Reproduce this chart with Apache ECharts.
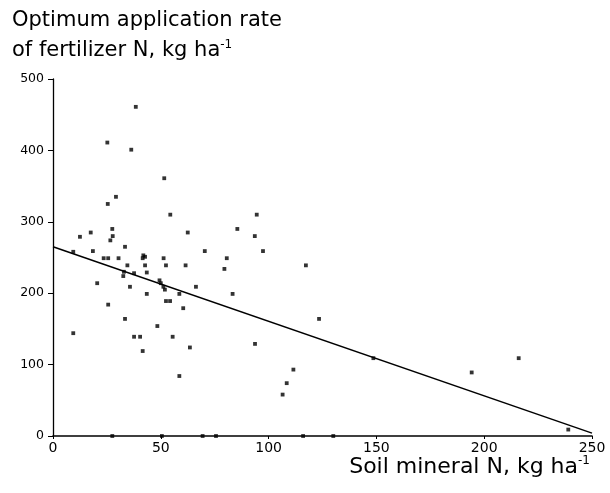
<!DOCTYPE html>
<html>
<head>
<meta charset="utf-8">
<script src="https://cdn.jsdelivr.net/npm/echarts@6/dist/echarts.min.js"></script>
<style>html,body{margin:0;padding:0;background:#fff}#c{width:610px;height:493px}</style>
</head>
<body>
<div id="c"></div>
<script>
// Soil mineral N (x) and optimum fertilizer N (y), kg/ha
const soilN = [9.4,18.5,12.5,17.5,27.5,27.7,26.6,33.4,23.5,25.6,30.4,41.9,42.7,41.6,51.3,34.5,42.7,52.4,61.5,32.9,32.6,37.6,43.5,20.5,35.7,49.4,50,51.2,51.9,66.3,43.5,58.6,52.4,54.3,25.6,60.4,33.4,48.4,9.4,37.6,40.4,55.5,63.5,41.6,58.6,38.4,25.2,36.3,29.2,25.4,51.6,54.4,62.5,94.5,85.5,93.6,97.4,70.4,80.6,79.5,83.3,93.7,117.3,123.4,111.5,108.4,106.5,148.6,194.2,216,239,27.5,50.5,69.4,75.6,116,130];
const optN  = [258,259,279,285,290,280,274,265,249,249,249,253,251,249,249,239,239,239,239,230,224,228,229,214,209,218,214,209,205,209,199,199,189,189,184,179,164,154,144,139,139,139,124,119,84,461,411,401,335,325,361,310,285,310,290,280,259,259,249,234,199,129,239,164,93,74,58,109,89,109,9,0,0,0,0,0,0];
// Fitted regression line end points
const regX = [0, 250];
const regY = [265, 4];
const xTicks = [0, 50, 100, 150, 200, 250];
const yTicks = [0, 100, 200, 300, 400, 500];

const chart = echarts.init(document.getElementById('c'));
const font = 'DejaVu Sans';
chart.setOption({
  animation: false,
  backgroundColor: '#fff',
  grid: {left: 53, right: 18, top: 79, bottom: 57},
  xAxis: {
    type: 'value', min: xTicks[0], max: xTicks[xTicks.length-1], interval: 50,
    axisLine: {lineStyle: {color: '#000', width: 1.6}},
    axisTick: {show: true, length: 3, lineStyle: {color: '#000'}},
    axisLabel: {color: '#000', fontFamily: font, fontSize: 14, margin: 5},
    splitLine: {show: false}
  },
  yAxis: {
    type: 'value', min: yTicks[0], max: yTicks[yTicks.length-1], interval: 100,
    axisLine: {show: true, lineStyle: {color: '#000', width: 1.3}},
    axisTick: {show: true, length: 5, lineStyle: {color: '#000'}},
    axisLabel: {color: '#000', fontFamily: font, fontSize: 12.5, margin: 9},
    splitLine: {show: false}
  },
  series: [
    {
      type: 'line', data: regX.map((x, i) => [x, regY[i]]),
      symbol: 'none', lineStyle: {color: '#000', width: 1.5}, z: 2
    },
    {
      type: 'scatter', data: soilN.map((x, i) => [x, optN[i]]),
      symbol: 'rect', symbolSize: 3.8, itemStyle: {color: '#000'}, clip: false, z: 3
    }
  ],
  graphic: [
    {type: 'text', left: 12, top: 10, style: {text: 'Optimum application rate', font: '21px "DejaVu Sans"', fill: '#000'}},
    {type: 'text', left: 12, top: 39, style: {
      text: '{a|of fertilizer N, kg ha}{s|-1}',
      rich: {a: {fontFamily: font, fontSize: 21, lineHeight: 24, color: '#000'},
             s: {fontFamily: font, fontSize: 12, lineHeight: 12, verticalAlign: 'top', color: '#000'}}
    }},
    {type: 'text', right: 20, top: 455, style: {
      text: '{a|Soil mineral N, kg ha}{s|-1}',
      rich: {a: {fontFamily: font, fontSize: 22, lineHeight: 24, color: '#000'},
             s: {fontFamily: font, fontSize: 12, lineHeight: 12, verticalAlign: 'top', color: '#000'}}
    }}
  ]
});
</script>
</body>
</html>
